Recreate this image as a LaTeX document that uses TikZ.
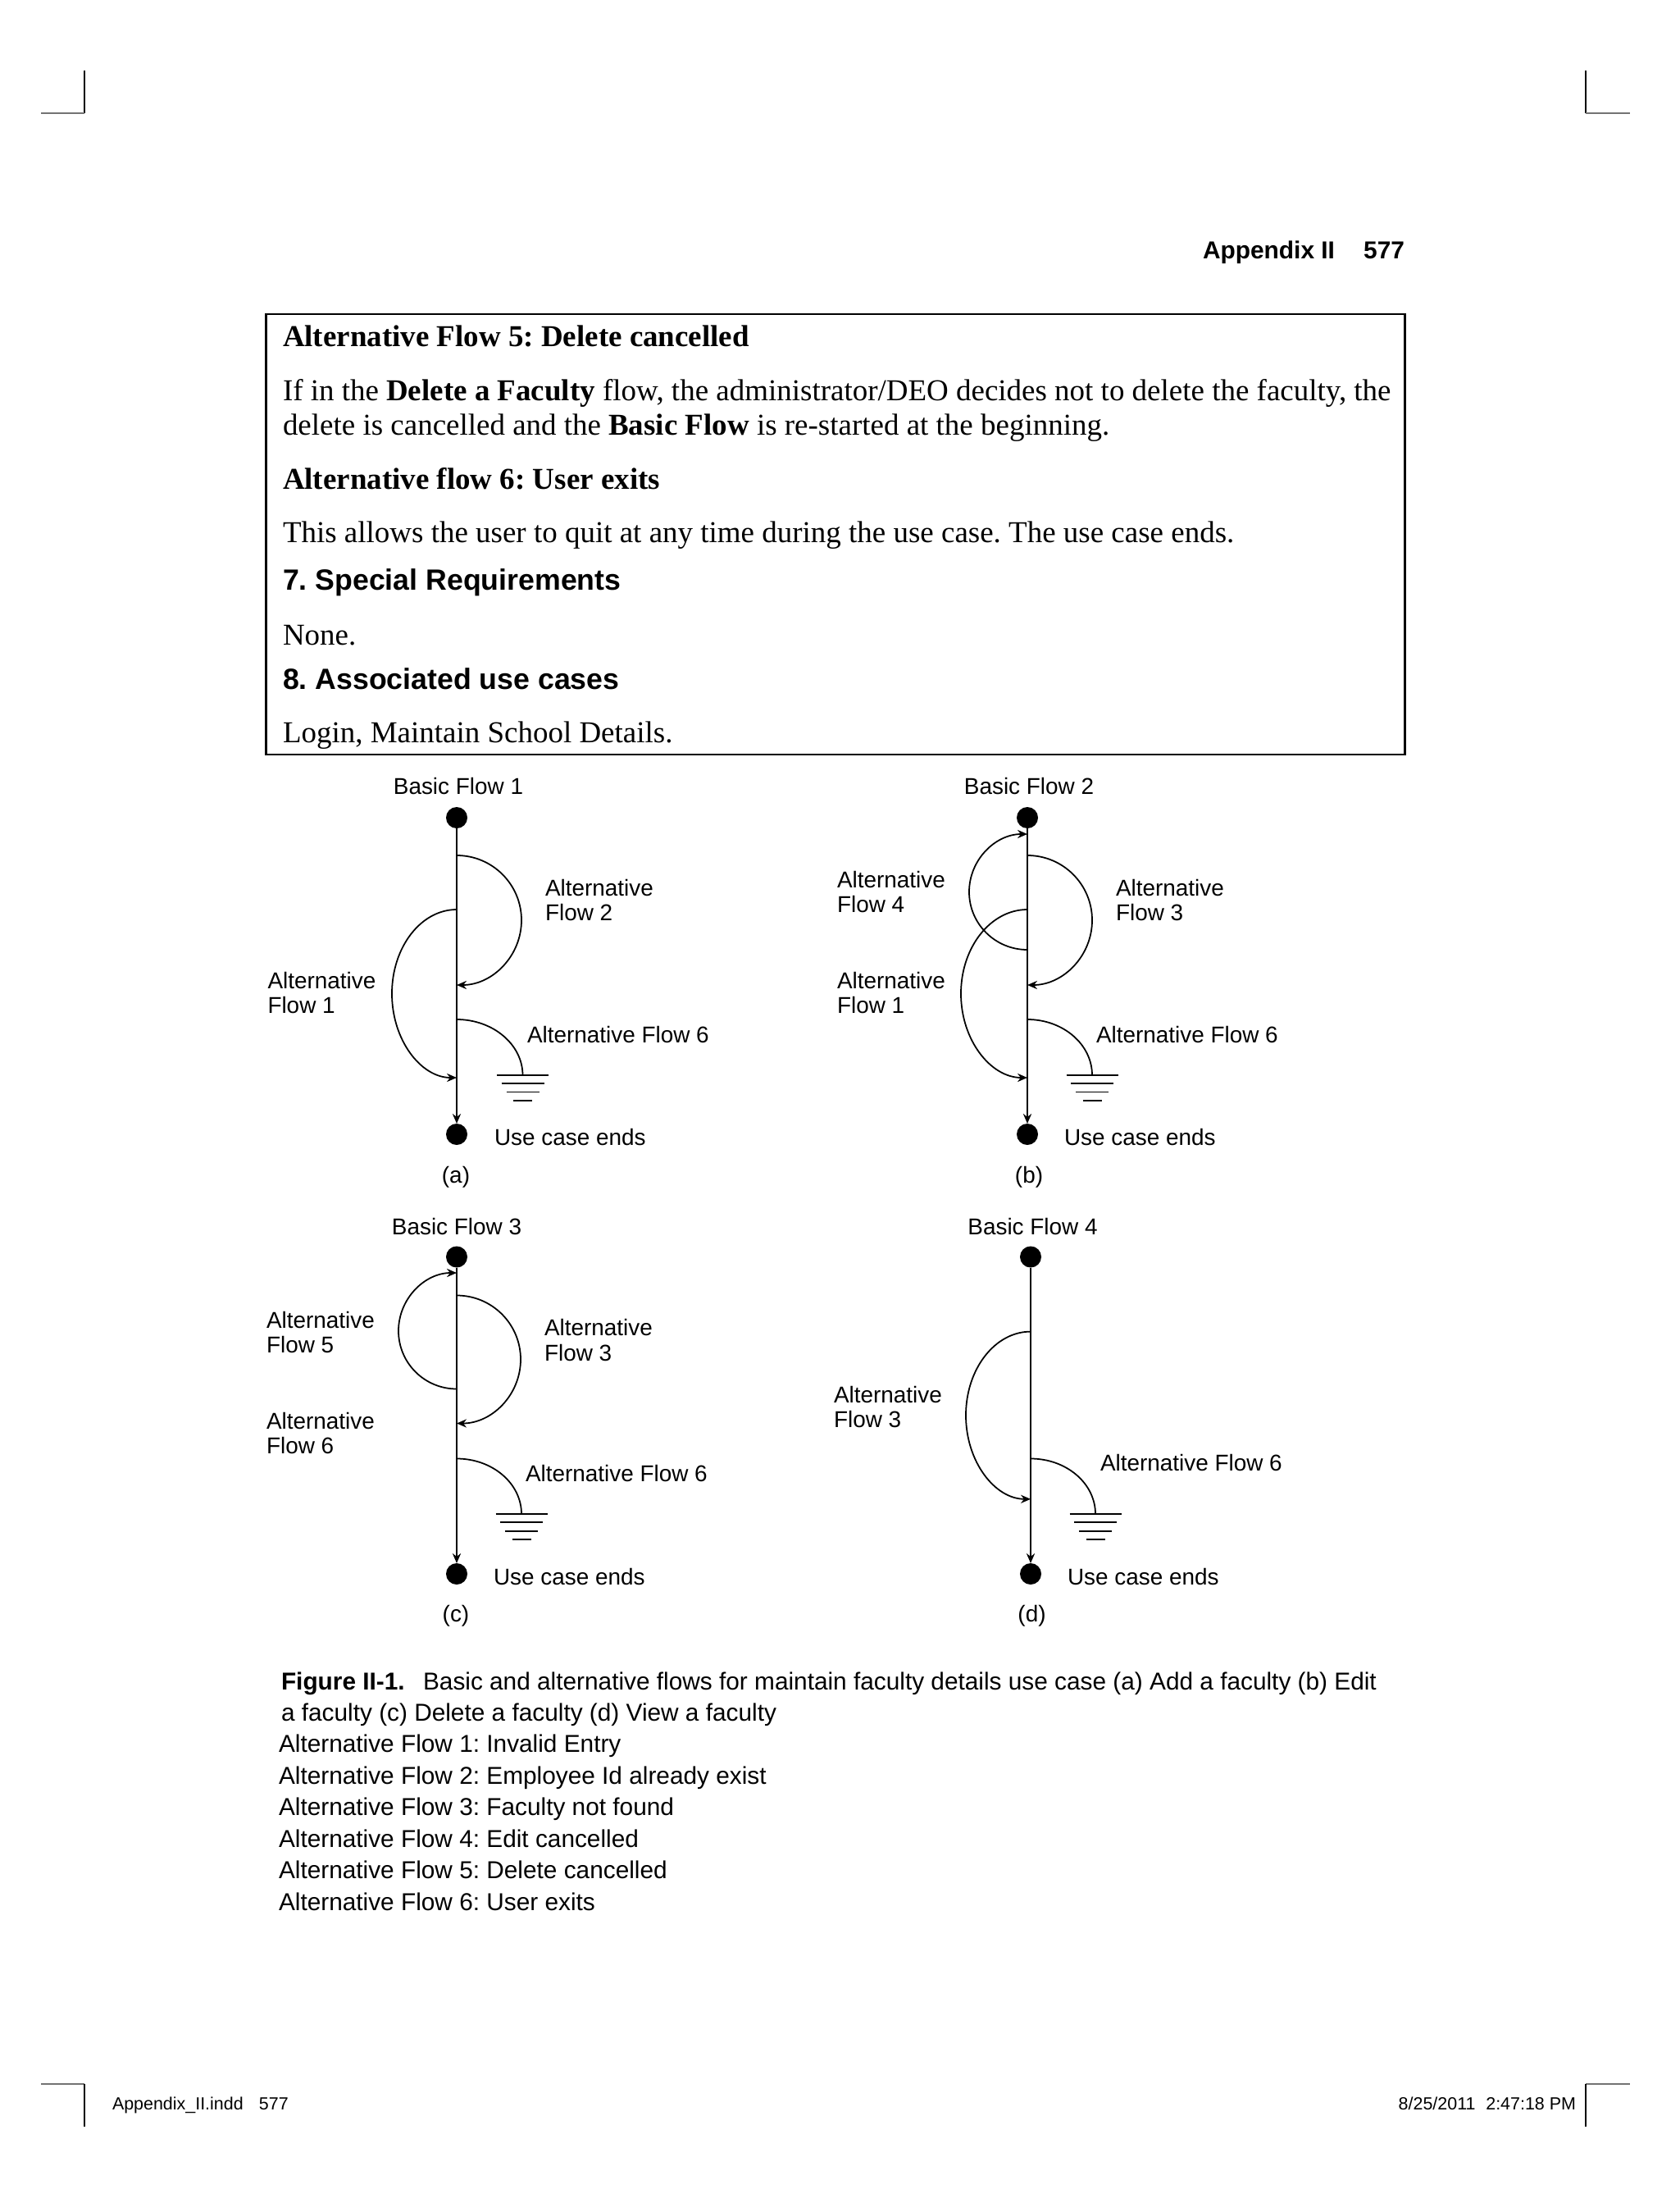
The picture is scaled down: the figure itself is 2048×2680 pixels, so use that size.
\documentclass[tikz,border=0pt]{standalone}
\usepackage{fontspec}
\setmainfont{Liberation Serif}
\setsansfont{Liberation Sans}
\usetikzlibrary{arrows.meta,calc}
\frenchspacing
\tikzset{
  every node/.style={inner sep=0pt, outer sep=0pt},
  lbl/.style={font=\sffamily\fontsize{7.94}{8.8}\selectfont, align=left, anchor=west},
  ttl/.style={font=\sffamily\fontsize{7.94}{8.8}\selectfont, anchor=center},
  dot/.style={circle, fill=black, minimum size=2.6mm},
  flow/.style={line width=0.5pt, -{Stealth[length=3.4pt,width=2.9pt]}},
  gnd/.style={line width=0.5pt},
  body/.style={font=\fontsize{10.52}{12.6}\selectfont, anchor=base west},
  bhead/.style={font=\bfseries\fontsize{10.52}{12.6}\selectfont, anchor=base west},
  shead/.style={font=\sffamily\bfseries\fontsize{10.15}{12}\selectfont, anchor=base west},
  capt/.style={font=\sffamily\fontsize{8.48}{10.9}\selectfont, anchor=base west},
  foot/.style={font=\sffamily\fontsize{6.1}{7.5}\selectfont},
  runhead/.style={font=\sffamily\bfseries\fontsize{8.5}{10}\selectfont, anchor=base east},
  crop/.style={line width=0.6pt, black},
  cropg/.style={line width=0.6pt, black!55},
}
\newcommand\gndsym[1]{%
  \draw[gnd] ($(#1)+(-31.5,0)$) -- ($(#1)+(31.5,0)$);
  \draw[gnd] ($(#1)+(-26,10.3)$) -- ($(#1)+(26,10.3)$);
  \draw[gnd] ($(#1)+(-20,20.6)$) -- ($(#1)+(20,20.6)$);
  \draw[gnd] ($(#1)+(-11.5,31)$) -- ($(#1)+(11.5,31)$);
}
\begin{document}
\begin{tikzpicture}[x=0.1mm,y=-0.1mm]
\useasboundingbox (0,0) rectangle (2048,2680);
\fill[white] (0,0) rectangle (2048,2680);

% crop marks
\draw[crop] (102.6,86) -- (102.6,138);
\draw[cropg] (50,138) -- (102.6,138);
\draw[crop] (1934,86) -- (1934,138);
\draw[cropg] (1934,138) -- (1988,138);
\draw[cropg] (50,2541) -- (102.6,2541);
\draw[crop] (102.6,2541) -- (102.6,2593);
\draw[cropg] (1934,2541) -- (1988,2541);
\draw[crop] (1934,2541) -- (1934,2593);

% running head
\node[runhead] (rh1) at (1628,316) {Appendix II};
\node[runhead] (rh2) at (1713,316) {577};

% text box
\draw[line width=0.85pt] (324.8,383) rectangle (1713,920);
\node[bhead] (h5) at (345,423) {Alternative Flow 5: Delete cancelled};
\node[body] (p1) at (345,489) {If in the \textbf{Delete a Faculty} flow, the administrator/DEO decides not to delete the faculty, the};
\node[body] (p2) at (345,531) {delete is cancelled and the \textbf{Basic Flow} is re-started at the beginning.};
\node[bhead] (h6) at (345,597) {Alternative flow 6: User exits};
\node[body] (p3) at (345,661) {This allows the user to quit at any time during the use case. The use case ends.};
\node[shead] (h7) at (345,719) {7. Special Requirements};
\node[body] (p4) at (345,786) {None.};
\node[shead] (h8) at (345,840) {8. Associated use cases};
\node[body] (p5) at (345,905) {Login, Maintain School Details.};

% ---------------- (a)
\node[ttl] (at) at (559,959) {Basic Flow 1};
\node[dot] (a0) at (557,997) {};
\node[dot] (a9) at (557,1383) {};
\draw[flow] (a0) -- (a9);
\coordinate (a2s) at (557,1043);
\coordinate (a2m) at (636,1122);
\coordinate (a2e) at (557,1201);
\draw[flow] (a2s) .. controls +(43.6,0) and +(0,-43.6) .. (a2m) .. controls +(0,43.6) and +(43.6,0) .. (a2e);
\coordinate (a1s) at (557,1109);
\coordinate (a1m) at (478,1211.5);
\coordinate (a1e) at (557,1314);
\draw[flow] (a1s) .. controls +(-43.6,0) and +(0,-56.6) .. (a1m) .. controls +(0,56.6) and +(-43.6,0) .. (a1e);
\coordinate (a6s) at (557,1243);
\coordinate (a6g) at (637.5,1311);
\draw[gnd] (a6s) .. controls +(44,0) and +(0,-37.6) .. (a6g);
\gndsym{a6g}
\node[lbl] (al2) at (665,1097.5) {Alternative\\Flow 2};
\node[lbl] (al1) at (326.5,1210.5) {Alternative\\Flow 1};
\node[lbl] (al6) at (643,1262) {Alternative Flow 6};
\node[lbl] (aend) at (603,1387) {Use case ends};
\node[ttl] (acap) at (556,1435) {(a)};

% ---------------- (b)
\node[ttl] (bt) at (1255,959) {Basic Flow 2};
\node[dot] (b0) at (1253,997) {};
\node[dot] (b9) at (1253,1383) {};
\draw[flow] (b0) -- (b9);
\coordinate (b4s) at (1253,1158);
\coordinate (b4m) at (1182,1087.5);
\coordinate (b4e) at (1253,1017);
\draw[flow] (b4s) .. controls +(-39.2,0) and +(0,38.9) .. (b4m) .. controls +(0,-38.9) and +(-39.2,0) .. (b4e);
\coordinate (b3s) at (1253,1043);
\coordinate (b3m) at (1332,1122);
\coordinate (b3e) at (1253,1201);
\draw[flow] (b3s) .. controls +(43.6,0) and +(0,-43.6) .. (b3m) .. controls +(0,43.6) and +(43.6,0) .. (b3e);
\coordinate (b1s) at (1253,1109);
\coordinate (b1m) at (1172,1211.5);
\coordinate (b1e) at (1253,1314);
\draw[flow] (b1s) .. controls +(-44.7,0) and +(0,-56.6) .. (b1m) .. controls +(0,56.6) and +(-44.7,0) .. (b1e);
\coordinate (b6s) at (1253,1243);
\coordinate (b6g) at (1332,1311);
\draw[gnd] (b6s) .. controls +(43.6,0) and +(0,-37.6) .. (b6g);
\gndsym{b6g}
\node[lbl] (bl4) at (1021,1087.5) {Alternative\\Flow 4};
\node[lbl] (bl1) at (1021,1210.5) {Alternative\\Flow 1};
\node[lbl] (bl3) at (1361,1097.5) {Alternative\\Flow 3};
\node[lbl] (bl6) at (1337,1262) {Alternative Flow 6};
\node[lbl] (bend) at (1298,1387) {Use case ends};
\node[ttl] (bcap) at (1255,1435) {(b)};

% ---------------- (c)
\node[ttl] (ct) at (557,1496) {Basic Flow 3};
\node[dot] (c0) at (557,1532.5) {};
\node[dot] (c9) at (557,1919) {};
\draw[flow] (c0) -- (c9);
\coordinate (c5s) at (557,1693.5);
\coordinate (c5m) at (486,1622.75);
\coordinate (c5e) at (557,1552);
\draw[flow] (c5s) .. controls +(-39.2,0) and +(0,39.1) .. (c5m) .. controls +(0,-39.1) and +(-39.2,0) .. (c5e);
\coordinate (c3s) at (557,1579.5);
\coordinate (c3m) at (635,1657.5);
\coordinate (c3e) at (557,1735.5);
\draw[flow] (c3s) .. controls +(43.1,0) and +(0,-43.1) .. (c3m) .. controls +(0,43.1) and +(43.1,0) .. (c3e);
\coordinate (c6s) at (557,1778.5);
\coordinate (c6g) at (636,1846);
\draw[gnd] (c6s) .. controls +(43.6,0) and +(0,-37.3) .. (c6g);
\gndsym{c6g}
\node[lbl] (cl5) at (325,1624.5) {Alternative\\Flow 5};
\node[lbl] (cl6l) at (325,1747.5) {Alternative\\Flow 6};
\node[lbl] (cl3) at (664,1634) {Alternative\\Flow 3};
\node[lbl] (cl6) at (641,1797) {Alternative Flow 6};
\node[lbl] (cend) at (602,1923) {Use case ends};
\node[ttl] (ccap) at (556,1970) {(c)};

% ---------------- (d)
\node[ttl] (dt) at (1259.5,1496) {Basic Flow 4};
\node[dot] (d0) at (1257,1532.5) {};
\node[dot] (d9) at (1257,1919) {};
\draw[flow] (d0) -- (d9);
\coordinate (d3s) at (1257,1623.6);
\coordinate (d3m) at (1178,1725.7);
\coordinate (d3e) at (1257,1827.8);
\draw[flow] (d3s) .. controls +(-43.6,0) and +(0,-56.4) .. (d3m) .. controls +(0,56.4) and +(-43.6,0) .. (d3e);
\coordinate (d6s) at (1257,1778.5);
\coordinate (d6g) at (1336,1846);
\draw[gnd] (d6s) .. controls +(43.6,0) and +(0,-37.3) .. (d6g);
\gndsym{d6g}
\node[lbl] (dl3) at (1017,1715.5) {Alternative\\Flow 3};
\node[lbl] (dl6) at (1342,1783.5) {Alternative Flow 6};
\node[lbl] (dend) at (1302,1923) {Use case ends};
\node[ttl] (dcap) at (1258.5,1970) {(d)};

% caption
\node[capt] (c1) at (343,2060) {\textbf{Figure II-1.}\hspace{0.75em}Basic and alternative flows for maintain faculty details use case (a) Add a faculty (b) Edit};
\node[capt] (c2) at (343,2098.4) {a faculty (c) Delete a faculty (d) View a faculty};
\node[capt] (c3) at (340,2136.9) {Alternative Flow 1: Invalid Entry};
\node[capt] (c4) at (340,2175.3) {Alternative Flow 2: Employee Id already exist};
\node[capt] (c5) at (340,2213.7) {Alternative Flow 3: Faculty not found};
\node[capt] (c6) at (340,2252.1) {Alternative Flow 4: Edit cancelled};
\node[capt] (c7) at (340,2290.6) {Alternative Flow 5: Delete cancelled};
\node[capt] (c8) at (340,2329) {Alternative Flow 6: User exits};

% footer
\node[foot, anchor=base west] (f1) at (137,2572) {Appendix\_II.indd\hspace{0.9em}577};
\node[foot, anchor=base east] (f2) at (1922,2572) {8/25/2011\hspace{0.6em}2:47:18 PM};
\end{tikzpicture}
\end{document}
